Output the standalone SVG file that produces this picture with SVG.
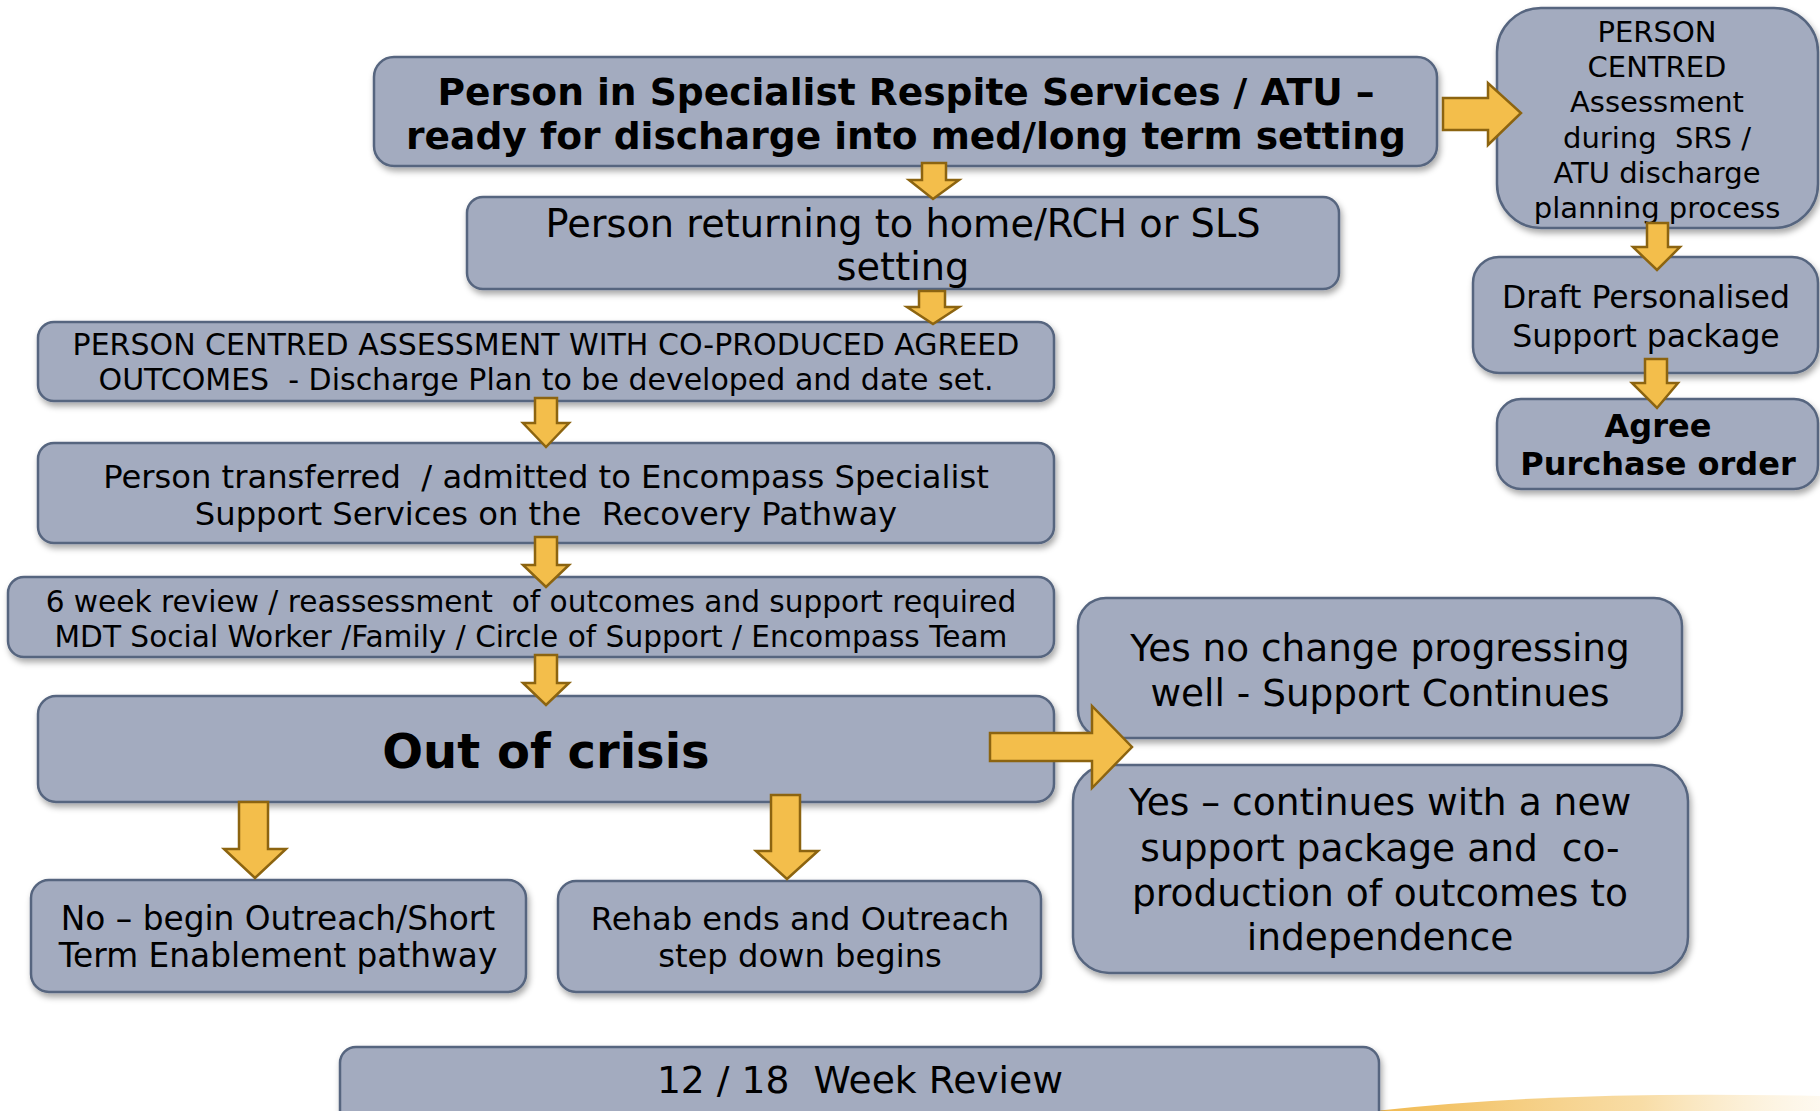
<svg xmlns="http://www.w3.org/2000/svg" width="1820" height="1111" viewBox="0 0 1820 1111">
<defs>
<filter id="sh" x="-5%" y="-10%" width="110%" height="130%">
<feDropShadow dx="2" dy="4" stdDeviation="3" flood-color="#000" flood-opacity="0.35"/>
</filter>
<linearGradient id="sw" x1="0" y1="0" x2="1" y2="0">
<stop offset="0" stop-color="#F0B545" stop-opacity="0.95"/>
<stop offset="0.6" stop-color="#F5CE80" stop-opacity="0.7"/>
<stop offset="1" stop-color="#FBEBCB" stop-opacity="0.3"/>
</linearGradient>
<style>
.box{fill:#A3ABBF;stroke:#56657F;stroke-width:2.5;filter:url(#sh)}
.t{font-family:"DejaVu Sans",Verdana,sans-serif;fill:#000;text-anchor:middle;white-space:pre}
.b{font-weight:bold}
.arr{fill:#F3BE4B;stroke:#8C6410;stroke-width:2.5;stroke-linejoin:miter}
</style>
</defs>
<rect width="1820" height="1111" fill="#fff"/>
<path d="M1375 1111 Q1560 1090 1820 1096 L1820 1111 Z" fill="url(#sw)"/>

<g id="n1"><rect class="box" x="374" y="57" width="1063" height="109" rx="20"/>
<text class="t b" font-size="37.6" x="906" y="105">Person in Specialist Respite Services / ATU –</text>
<text class="t b" font-size="37.6" x="906" y="149">ready for discharge into med/long term setting</text></g>

<g id="n2"><rect class="box" x="467" y="197" width="872" height="92" rx="16"/>
<text class="t" font-size="38.3" x="903" y="237">Person returning to home/RCH or SLS</text>
<text class="t" font-size="38.3" x="903" y="280">setting</text></g>

<g id="n3"><rect class="box" x="38" y="322" width="1016" height="79" rx="16"/>
<text class="t" font-size="30" x="546" y="355">PERSON CENTRED ASSESSMENT WITH CO-PRODUCED AGREED</text>
<text class="t" font-size="30" x="546" y="390">OUTCOMES  - Discharge Plan to be developed and date set.</text></g>

<g id="n4"><rect class="box" x="38" y="443" width="1016" height="100" rx="16"/>
<text class="t" font-size="32.2" x="546" y="488">Person transferred  / admitted to Encompass Specialist</text>
<text class="t" font-size="32.2" x="546" y="525">Support Services on the  Recovery Pathway</text></g>

<g id="n5"><rect class="box" x="8" y="577" width="1046" height="80" rx="16"/>
<text class="t" font-size="29.6" x="531" y="612">6 week review / reassessment  of outcomes and support required</text>
<text class="t" font-size="29.6" x="531" y="647">MDT Social Worker /Family / Circle of Support / Encompass Team</text></g>

<g id="n6"><rect class="box" x="38" y="696" width="1016" height="106" rx="18"/>
<text class="t b" font-size="48" x="546" y="768">Out of crisis</text></g>

<g id="n7"><rect class="box" x="31" y="880" width="495" height="112" rx="18"/>
<text class="t" font-size="32.8" x="278" y="930">No – begin Outreach/Short</text>
<text class="t" font-size="32.8" x="278" y="967">Term Enablement pathway</text></g>

<g id="n8"><rect class="box" x="558" y="881" width="483" height="111" rx="18"/>
<text class="t" font-size="32.2" x="800" y="930">Rehab ends and Outreach</text>
<text class="t" font-size="32.2" x="800" y="967">step down begins</text></g>

<g id="n9"><rect class="box" x="1078" y="598" width="604" height="140" rx="28"/>
<text class="t" font-size="37.4" x="1380" y="661">Yes no change progressing</text>
<text class="t" font-size="37.4" x="1380" y="706">well - Support Continues</text></g>

<g id="n10"><rect class="box" x="1073" y="765" width="615" height="208" rx="36"/>
<text class="t" font-size="37.6" x="1380" y="815">Yes – continues with a new</text>
<text class="t" font-size="37.6" x="1380" y="861">support package and  co-</text>
<text class="t" font-size="37.6" x="1380" y="906">production of outcomes to</text>
<text class="t" font-size="37.6" x="1380" y="950">independence</text></g>

<g id="n11"><rect class="box" x="340" y="1047" width="1039" height="90" rx="16"/>
<text class="t" font-size="37.7" x="860" y="1093">12 / 18  Week Review</text></g>

<g id="r1"><rect class="box" x="1497" y="8" width="321" height="220" rx="44"/>
<text class="t" font-size="29" x="1657" y="42">PERSON</text>
<text class="t" font-size="29" x="1657" y="77">CENTRED</text>
<text class="t" font-size="29" x="1657" y="112">Assessment</text>
<text class="t" font-size="29" x="1657" y="148">during  SRS /</text>
<text class="t" font-size="29" x="1657" y="183">ATU discharge</text>
<text class="t" font-size="29" x="1657" y="218">planning process</text></g>

<g id="r2"><rect class="box" x="1473" y="257" width="345" height="116" rx="26"/>
<text class="t" font-size="31.5" x="1646" y="308">Draft Personalised</text>
<text class="t" font-size="31.5" x="1646" y="347">Support package</text></g>

<g id="r3"><rect class="box" x="1497" y="399" width="321" height="90" rx="24"/>
<text class="t b" font-size="32" x="1658" y="437">Agree</text>
<text class="t b" font-size="32" x="1658" y="475">Purchase order</text></g>

<g id="connectors">
<polygon class="arr" points="922,163 946,163 946,180 959,180 933,199 909,180 922,180"/>
<polygon class="arr" points="919,291 945,291 945,307 959,307 933,324 907,307 919,307"/>
<polygon class="arr" points="535,398 557,398 557,423 569,423 546,447 523,423 535,423"/>
<polygon class="arr" points="535,537 557,537 557,565 569,565 546,587 523,565 535,565"/>
<polygon class="arr" points="535,655 557,655 557,683 569,683 546,705 523,683 535,683"/>
<polygon class="arr" points="1443,98 1488,98 1488,83 1521,113 1488,145 1488,130 1443,130"/>
<polygon class="arr" points="1647,223 1668,223 1668,247 1680,247 1657,270 1633,247 1647,247"/>
<polygon class="arr" points="1645,359 1667,359 1667,383 1678,383 1657,408 1632,383 1645,383"/>
<polygon class="arr" points="990,733 1092,733 1092,706 1132,747 1092,788 1092,761 990,761"/>
<polygon class="arr" points="239,802 268,802 268,849 286,849 255,878 224,849 239,849"/>
<polygon class="arr" points="771,795 800,795 800,851 818,851 787,879 756,851 771,851"/>
</g>
</svg>
